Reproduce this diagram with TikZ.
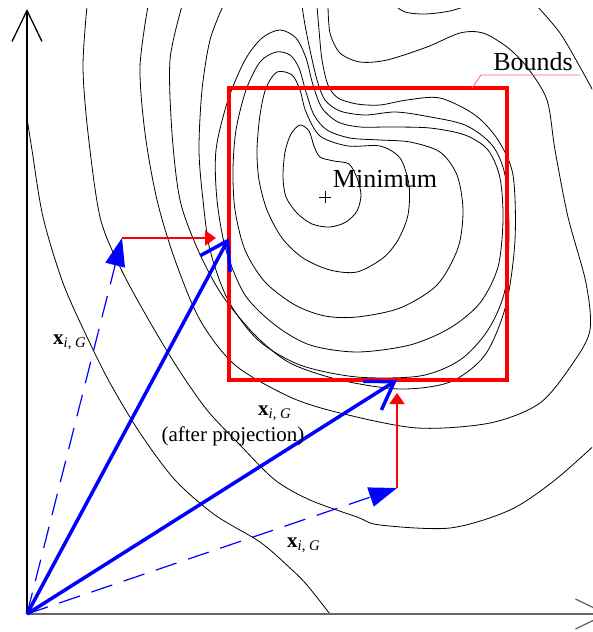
\documentclass[tikz,border=0pt]{standalone}
\usepackage{fontspec}
\setmainfont{Liberation Serif}
\usetikzlibrary{arrows.meta}
\begin{document}
\begin{tikzpicture}[x=1pt,y=-1pt,
  contour/.style={black,line width=0.8pt},
  axis/.style={line width=1.3pt,-{Straight Barb[length=31pt,width=30pt]}},
  vec/.style={blue,line width=3.5pt,-{Straight Barb[length=26pt,width=34pt]}},
  trial/.style={blue,line width=1.2pt,dash pattern=on 22pt off 12pt,-{Triangle[length=28pt,width=20pt]}},
  proj/.style={red,line width=2pt,shorten >=13pt,-{Triangle[length=11pt,width=15pt]}},
  bnd/.style={draw=red,line width=4pt,inner sep=0pt,outer sep=0pt},
  big/.style={font=\fontsize{26}{30}\selectfont,inner sep=0pt},
  lbl/.style={font=\fontsize{21}{24}\selectfont,inner sep=0pt}]
  \useasboundingbox (0,0) rectangle (592,632);
  \begin{scope}
    \clip (27,8) rectangle (592,614);
    \draw[contour] plot[smooth cycle] coordinates {(300,125) (309,131) (314,146) (320,157) (334,161) (349,164) (357,178) (361,195) (357,211) (346,222) (330,227) (312,224) (297,213) (286,197) (283,177) (285,152) (291,134)};
    \draw[contour] plot[smooth cycle] coordinates {(277,72) (292,75) (300,90) (306,112) (320,136) (348,146) (380,146) (400,158) (409,185) (408,215) (398,240) (383,258) (357,272) (330,270) (303,258) (282,238) (267,210) (259,180) (257,150) (260,115) (266,88)};
    \draw[contour] plot[smooth cycle] coordinates {(276,52) (290,55) (299,68) (306,92) (314,115) (327,130) (350,138) (380,140) (410,142) (440,152) (457,175) (463,210) (458,248) (437,285) (400,308) (357,317) (325,316) (295,305) (265,282) (245,250) (235,210) (233,170) (236,130) (246,90) (260,62)};
    \draw[contour] plot[smooth cycle] coordinates {(280,30) (296,38) (306,58) (313,85) (322,108) (338,122) (360,127) (390,127) (430,128) (465,135) (488,150) (500,178) (503,220) (498,267) (480,303) (450,328) (410,345) (357,352) (310,345) (275,325) (245,295) (226,250) (217,200) (216,150) (228,100) (245,60) (262,38)};
    \draw[contour] plot[smooth] coordinates {(223,6) (210,40) (202,90) (199,150) (203,200) (210,250) (228,300) (258,340) (300,365) (357,377) (420,376) (460,360) (488,330) (505,290) (509,230) (505,175) (492,145) (465,125) (425,116) (395,112) (365,115) (340,111) (325,100) (317,80) (310,50) (305,25) (302,6)};
    \draw[contour] plot[smooth] coordinates {(182,6) (170,60) (172,133) (180,200) (198,250) (222,295) (255,335) (290,363) (340,380) (400,389) (450,382) (485,355) (506,305) (515,240) (513,175) (498,140) (475,115) (440,98) (407,100) (380,105) (357,104) (338,98) (328,85) (322,60) (319,30) (317,6)};
    \draw[contour] plot[smooth] coordinates {(148,6) (140,67) (145,133) (157,200) (175,260) (200,320) (235,365) (290,397) (340,413) (417,428) (490,423) (540,403) (573,363) (590,330) (586,283) (568,217) (555,150) (547,100) (527,67) (507,47) (483,33) (460,33) (427,47) (387,60) (360,62) (340,53) (330,33) (328,6)};
    \draw[contour] plot[smooth] coordinates {(393,4) (405,12) (425,14) (450,11) (472,4)};
    \draw[contour] plot[smooth] coordinates {(537,6) (560,33) (580,67) (598,100)};
    \draw[contour] plot[smooth] coordinates {(87,6) (83,67) (88,133) (100,217) (120,267) (147,317) (177,367) (207,410) (240,445) (275,480) (310,500) (357,517) (380,525) (450,528) (510,510) (555,480) (600,440)};
    \draw[contour] plot[smooth] coordinates {(27,118) (32,150) (43,217) (63,283) (87,337) (110,383) (140,433) (175,480) (215,515) (260,542) (290,568) (307,585) (330,614) (340,625)};
  \end{scope}
  \coordinate (O) at (27,614);
  \coordinate (ytip) at (27,9);
  \coordinate (xtip) at (608,614);
  \coordinate (xa) at (122,238);
  \coordinate (xb) at (397,488);
  \coordinate (pa) at (229,238);
  \coordinate (pb) at (397,380);
  \coordinate (bt) at (472,88);
  \draw[axis] (O) -- (ytip);
  \draw[axis,black!60] (O) -- (xtip);
  \node[bnd,minimum width=278pt,minimum height=292pt] (bounds) at (368,234) {};
  \node[big] (bndlbl) at (533,62) {Bounds};
  \draw[red!60,line width=0.8pt] (bt) -- ++(9,-13) -- ++(99,0);
  \node[big] (minlbl) at (385,179) {Minimum};
  \coordinate (minpt) at (325,197);
  \draw[line width=0.7pt] (minpt) ++(-6,0) -- ++(12,0) (minpt) ++(0,-6) -- ++(0,12);
  \draw[trial] (O) -- (xa);
  \draw[trial] (O) -- (xb);
  \draw[proj] (xa) -- (pa);
  \draw[proj] (xb) -- (pb);
  \draw[vec] (O) -- (pa);
  \draw[vec] (O) -- (pb);
  \node[lbl,anchor=base west] (la) at (53,344) {\textbf{x}\textsubscript{\textit{i}, \textit{G}}};
  \node[lbl,anchor=base west] (lp) at (258,415) {\textbf{x}\textsubscript{\textit{i}, \textit{G}}};
  \node[lbl,anchor=base] (lpnote) at (233,441) {(after projection)};
  \node[lbl,anchor=base west] (lb) at (287,547) {\textbf{x}\textsubscript{\textit{i}, \textit{G}}};
\end{tikzpicture}
\end{document}
